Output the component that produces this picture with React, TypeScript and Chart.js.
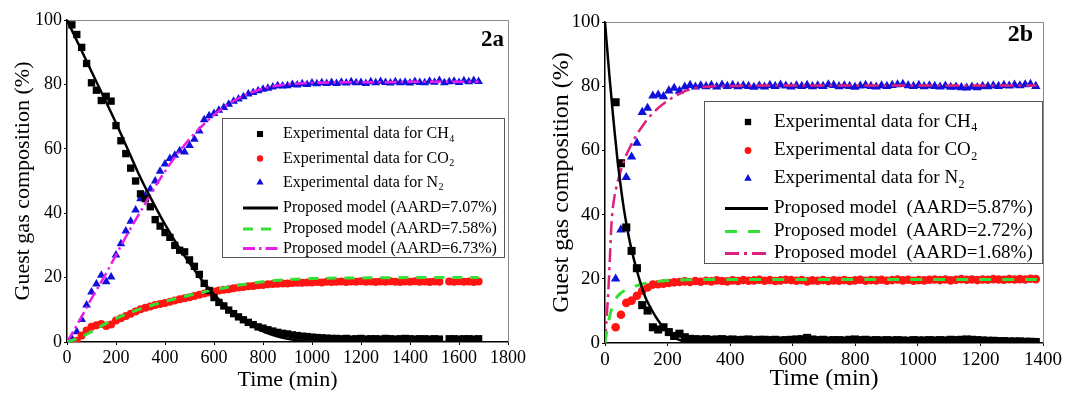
import React, { useEffect, useRef } from 'react';
import { Chart, registerables } from 'chart.js';

Chart.register(...registerables);

const FONT = '"Liberation Serif", "Times New Roman", serif';

// ---------- Panel 2a ----------
const TIME_A = [
  20, 40, 60, 80, 100, 120, 140, 160, 180, 200,
  220, 240, 260, 280, 300, 320, 340, 360, 380, 400,
  420, 440, 460, 480, 500, 520, 540, 560, 580, 600,
  620, 640, 660, 680, 700, 720, 740, 760, 780, 800,
  820, 840, 860, 880, 900, 920, 940, 960, 980, 1000,
  1020, 1040, 1060, 1080, 1100, 1120, 1140, 1160, 1180, 1200,
  1220, 1240, 1260, 1280, 1300, 1320, 1340, 1360, 1380, 1400,
  1420, 1440, 1460, 1480, 1500, 1520, 1540, 1560, 1580, 1600,
  1620, 1640, 1660, 1680,
];
const CH4_A = [
  98.5, 95.5, 91.5, 86.5, 80.5, 78.2, 75, 76.3, 74.8, 67.2,
  62.5, 58.5, 54, 50, 46, 44.5, 42, 38, 36, 34,
  32.5, 30, 28.5, 28, 25.5, 23.5, 21, 18.2, 16, 13.8,
  12.3, 11.2, 9.9, 8.8, 7.8, 6.9, 6.1, 5.4, 4.7, 4.3,
  3.8, 3.4, 3.0, 2.7, 2.5, 2.2, 2.0, 1.8, 1.7, 1.5,
  1.4, 1.3, 1.2, 1.1, 1.1, 1.0, 1.1, 0.9, 1.0, 1.1,
  0.9, 1.0, 1.0, 0.9, 1.1, 1.0, 0.9, 1.0, 1.1, 1.0,
  0.9, 1.0, 1.0, 0.9, 1.0, 0.9, null, 1.0, 1.0, 0.9,
  1.0, 1.0, 0.9, 1.0,
];
const CO2_A = [
  null, 0.4, 2.0, 3.6, 4.7, 5.2, 5.6, 5.0, 5.4, 6.7,
  7.4, 8.1, 8.8, 9.5, 10.2, 10.6, 11.0, 11.5, 11.8, 12.1,
  12.5, 12.9, 13.3, 13.6, 13.9, 14.3, 14.7, 15.1, 15.4, 15.7,
  16.0, 16.2, 16.4, 16.7, 16.9, 17.1, 17.3, 17.4, 17.6, 17.7,
  17.9, 18.0, 18.1, 18.2, 18.2, 18.3, 18.4, 18.4, 18.5, 18.5,
  18.6, 18.5, 18.7, 18.6, 18.7, 18.8, 18.6, 18.8, 18.7, 18.9,
  18.7, 18.8, 18.6, 18.8, 18.7, 18.9, 18.7, 18.6, 18.8, 18.7,
  18.9, 18.7, 18.8, 18.6, 18.8, 18.7, null, 18.8, 18.7, 18.9,
  18.7, 18.8, 18.6, 18.8,
];
const N2_A = [
  1.0, 3.2, 7.0, 11.5, 15.5, 18.0, 20.7, 18.7, 20.2, 27.0,
  30.5, 34.5, 37.5, 41.0, 44.5, 45.5, 47.5, 50.0, 53.0, 55.3,
  57.0, 58.0, 59.4, 59.0, 61.0, 63.0, 65.5, 69.0, 70.3, 71.0,
  72.0, 72.8, 73.8, 74.8, 75.5, 76.2, 77.0, 77.5, 78.0, 78.5,
  78.8, 79.2, 79.6, 79.5, 79.6, 80.0, 79.8, 80.2, 80.0, 80.4,
  80.2, 80.5, 80.3, 80.6, 80.3, 80.7, 80.4, 80.8, 80.5, 80.6,
  80.3, 80.8, 80.5, 80.9, 80.6, 80.4, 80.8, 80.5, 80.7, 80.4,
  80.9, 80.6, 80.5, 81.0, 80.7, 81.2, 80.5, 80.8, 81.0, 80.6,
  81.1, 80.8, 81.2, 80.9,
];
const MODEL_TIME_A = [0, 50, 100, 150, 200, 250, 300, 350, 400, 450, 500, 550, 600, 650, 700, 750, 800, 850, 900, 950, 1000, 1100, 1200, 1300, 1400, 1500, 1600, 1680];
const MODEL_CH4_A = [100, 92, 84, 76, 68, 59.5, 51, 43.5, 36.5, 30.2, 24.5, 19.3, 14.8, 11, 7.8, 5.2, 3.3, 1.9, 1.0, 0.4, 0.1, 0, 0, 0, 0, 0, 0, 0];
const MODEL_CO2_A = [0, 1.3, 3.2, 5.4, 7.3, 8.9, 10.3, 11.5, 12.6, 13.6, 14.5, 15.4, 16.2, 16.9, 17.6, 18.2, 18.7, 19.1, 19.4, 19.6, 19.7, 19.85, 19.9, 19.95, 20, 20, 20, 20];
const MODEL_N2_A = [0, 6.5, 13.5, 20, 27, 34, 40.5, 47, 53, 58.3, 63, 67, 70.5, 73.4, 75.7, 77.4, 78.7, 79.5, 80, 80.3, 80.5, 80.6, 80.7, 80.7, 80.8, 80.8, 80.8, 80.8];
const AARD_A = ['7.07%', '7.58%', '6.73%'];

// ---------- Panel 2b ----------
const TIME_B = [
  34, 51, 68, 85, 102, 119, 136, 153, 170, 187,
  204, 221, 238, 255, 272, 289, 306, 323, 340, 357,
  374, 391, 408, 425, 442, 459, 476, 493, 510, 527,
  544, 561, 578, 595, 612, 629, 646, 663, 680, 697,
  714, 731, 748, 765, 782, 799, 816, 833, 850, 867,
  884, 901, 918, 935, 952, 969, 986, 1003, 1020, 1037,
  1054, 1071, 1088, 1105, 1122, 1139, 1156, 1173, 1190, 1207,
  1224, 1241, 1258, 1275, 1292, 1309, 1326, 1343, 1360, 1377,
];
const CH4_B = [
  75, 56, 36, 28.7, 23.3, 11.8, 10.1, 4.9, 4.2, 4.9,
  3.4, 2.2, 2.9, 1.8, 1.3, 1.2, 1.1, 1.2, 1.0, 1.1,
  1.2, 1.0, 1.1, 0.9, 1.0, 1.1, 0.9, 1.0, 1.0, 0.9,
  1.0, 0.8, 0.9, 1.0, 1.1, 1.2, 1.6, 1.1, 0.9, 1.0,
  0.8, 0.9, 0.9, 0.8, 1.0, 1.1, 0.9, 1.0, 0.8, 0.9,
  0.8, 0.9, 0.8, 0.9, 0.8, 0.7, 0.9, 0.8, 0.8, 0.9,
  0.8, 0.9, 0.8, 1.0, 0.9, 1.0, 1.1, 1.0, 0.9, 0.8,
  0.7, 0.7, 0.6, 0.6, 0.5, 0.5, 0.5, 0.4, 0.4, 0.3,
];
const CO2_B = [
  4.9, 8.8, 12.5, 13.2, 14.7, 16.3, 17.3, 18.2, 18.3, 18.5,
  18.7, 18.9, 19.0, 19.2, 19.0, 19.3, 19.1, 19.4, 19.2, 19.5,
  19.3, 19.2, 19.5, 19.3, 19.6, 19.4, 19.5, 19.7, 19.4, 19.6,
  19.3, 19.5, 19.7, 19.6, 19.4, 19.6, 19.2, 19.5, 19.4, 19.6,
  19.3, 19.5, 19.4, 19.6, 19.3, 19.5, 19.7, 19.4, 19.6, 19.5,
  19.7, 19.4, 19.6, 19.8, 19.5, 19.7, 19.4, 19.6, 19.5, 19.7,
  19.8, 19.6, 19.8, 19.5, 19.7, 19.9, 19.7, 19.8, 19.6, 19.8,
  19.7, 19.9, 19.8, 19.7, 19.9, 19.8, 19.9, 19.8, 20.0, 19.9,
];
const N2_B = [
  20, 35.3, 51.6, 58, 62.3, 71.9, 73.2, 77, 77.3, 76.8,
  78.6, 79.4, 78.5, 79.8, 80.3, 79.8, 80.2, 79.9, 80.3, 79.8,
  80.4, 80.0, 80.3, 79.9, 80.2, 80.0, 79.7, 80.1, 79.8, 80.3,
  80.0, 80.4, 80.1, 79.8, 80.2, 80.0, 80.3, 79.9, 80.2, 80.0,
  80.5, 80.3, 79.9, 80.2, 80.0, 79.7, 80.1, 80.3, 80.0, 79.8,
  80.2, 80.0, 80.3, 80.5, 80.6, 80.2, 80.0, 80.3, 79.9, 80.2,
  80.0, 79.8, 80.1, 79.7, 79.8, 79.6, 79.5, 79.8, 79.6, 80.0,
  79.9, 80.2, 80.0, 80.3, 80.1, 80.4, 80.2, 80.5, 80.6, 80.0,
];
const MODEL_TIME_B = [0, 5, 10, 15, 20, 25, 30, 40, 50, 60, 70, 80, 90, 100, 110, 120, 130, 140, 150, 160, 170, 180, 190, 200, 210, 220, 230, 240, 250, 260, 280, 300, 350, 400, 500, 600, 800, 1000, 1200, 1380];
const MODEL_CH4_B = [100, 94, 88, 82.3, 77, 71.5, 66.5, 57, 49, 42, 36.2, 31.2, 27, 23.3, 19.8, 16.8, 14, 12, 10.2, 8.5, 7, 5.7, 4.5, 3.5, 2.6, 1.9, 1.3, 0.9, 0.5, 0.3, 0.05, 0, 0, 0, 0, 0, 0, 0, 0, 0];
const MODEL_CO2_B = [0, 3.3, 5.8, 8.3, 10.2, 11.7, 12.9, 14.5, 15.5, 16.2, 16.7, 17.1, 17.5, 17.8, 18.1, 18.4, 18.6, 18.8, 19, 19.1, 19.2, 19.3, 19.4, 19.45, 19.5, 19.55, 19.6, 19.6, 19.65, 19.7, 19.7, 19.75, 19.8, 19.8, 19.8, 19.8, 19.8, 19.8, 19.8, 19.8];
const MODEL_N2_B = [0, 7.5, 15, 25, 36, 42, 45.5, 50, 53.5, 56.5, 59, 61, 63, 64.7, 66.2, 67.6, 69, 70.2, 71.3, 72.3, 73.2, 74, 74.8, 75.5, 76.1, 76.7, 77.2, 77.7, 78.2, 78.6, 79.2, 79.6, 80, 80.1, 80.2, 80.2, 80.2, 80.2, 80.2, 80.2];
const AARD_B = ['5.87%', '2.72%', '1.68%'];

const Y_TICKS = [0, 20, 40, 60, 80, 100];

type Panel = {
  label: string;
  canvasLeft: number;
  width: number;
  xMax: number;
  plotLeft: number;
  plotRight: number;
  plotTop: number;
  plotBottom: number;
  tickSize: number;
  titleSize: number;
  yTitlePad: number;
  tickPad: number;
  time: number[];
  ch4: (number | null)[];
  co2: (number | null)[];
  n2: (number | null)[];
  mTime: number[];
  mCh4: number[];
  mCo2: number[];
  mN2: number[];
  aard: string[];
  modelSep: string;
  magenta: string;
  greenDash: number[];
  magDash: number[];
  mark: { rect: number; circle: number; tri: number };
  legend: {
    box: [number, number, number, number];
    rows: number[];
    markerX: number;
    textX: number;
    lineX: [number, number];
    size: number;
    lm: { rect: number; circle: number; tri: number };
  };
  tag: { x: number; y: number; size: number };
};

const PANELS: Panel[] = [
  {
    label: '2a', canvasLeft: 0, width: 540, xMax: 1800,
    plotLeft: 67, plotRight: 508, plotTop: 20, plotBottom: 342,
    tickSize: 18, titleSize: 22, yTitlePad: 11, tickPad: 2,
    time: TIME_A, ch4: CH4_A, co2: CO2_A, n2: N2_A,
    mTime: MODEL_TIME_A, mCh4: MODEL_CH4_A, mCo2: MODEL_CO2_A, mN2: MODEL_N2_A,
    aard: AARD_A, modelSep: ' ', magenta: '#e81ee8',
    greenDash: [10, 8], magDash: [12, 4, 2.5, 4],
    mark: { rect: 5.2, circle: 4, tri: 5 },
    legend: {
      box: [222, 118, 505, 258], rows: [134, 158.5, 182.5, 208, 229, 248.5],
      markerX: 260, textX: 283, lineX: [243, 278], size: 16,
      lm: { rect: 4.3, circle: 3.2, tri: 4.2 },
    },
    tag: { x: 504, y: 40, size: 23 },
  },
  {
    label: '2b', canvasLeft: 540, width: 527, xMax: 1400,
    plotLeft: 65, plotRight: 503, plotTop: 22, plotBottom: 343,
    tickSize: 19, titleSize: 24, yTitlePad: 8, tickPad: 3,
    time: TIME_B, ch4: CH4_B, co2: CO2_B, n2: N2_B,
    mTime: MODEL_TIME_B, mCh4: MODEL_CH4_B, mCo2: MODEL_CO2_B, mN2: MODEL_N2_B,
    aard: AARD_B, modelSep: '  ', magenta: '#e0207e',
    greenDash: [12, 11], magDash: [14, 5, 3, 5],
    mark: { rect: 5.7, circle: 4.3, tri: 5.4 },
    legend: {
      box: [164, 101, 503, 264], rows: [122, 150.5, 178.5, 208.5, 231.5, 253.5],
      markerX: 208, textX: 234, lineX: [185, 228], size: 19,
      lm: { rect: 4.5, circle: 3.4, tri: 4.4 },
    },
    tag: { x: 493, y: 35, size: 24 },
  },
];

const BLACK = '#000000';
const RED = '#ff1414';
const BLUE = '#1010dd';
const GREEN = '#35e035';

function pts(xs: number[], ys: (number | null)[]) {
  return xs.map((x, i) => ({ x, y: ys[i] })).filter((d) => d.y !== null && d.y !== undefined);
}

function drawMarker(ctx: CanvasRenderingContext2D, kind: string, x: number, y: number, r: number, color: string) {
  ctx.fillStyle = color;
  ctx.beginPath();
  if (kind === 'rect') {
    const s = r * Math.SQRT1_2;
    ctx.rect(x - s, y - s, 2 * s, 2 * s);
  } else if (kind === 'circle') {
    ctx.arc(x, y, r, 0, Math.PI * 2);
  } else {
    ctx.moveTo(x, y - r);
    ctx.lineTo(x + r * Math.sin((2 * Math.PI) / 3), y - r * Math.cos((2 * Math.PI) / 3));
    ctx.lineTo(x + r * Math.sin((4 * Math.PI) / 3), y - r * Math.cos((4 * Math.PI) / 3));
    ctx.closePath();
  }
  ctx.fill();
}

function makeConfig(p: Panel): any {
  const L = p.legend;
  const rows = [
    { kind: 'rect', color: BLACK, text: 'Experimental data for CH', sub: '4' },
    { kind: 'circle', color: RED, text: 'Experimental data for CO', sub: '2' },
    { kind: 'triangle', color: BLUE, text: 'Experimental data for N', sub: '2' },
    { kind: 'line', color: BLACK, dash: [] as number[], text: 'Proposed model' + p.modelSep + '(AARD=' + p.aard[0] + ')' },
    { kind: 'line', color: GREEN, dash: p.greenDash, text: 'Proposed model' + p.modelSep + '(AARD=' + p.aard[1] + ')' },
    { kind: 'line', color: p.magenta, dash: p.magDash, text: 'Proposed model' + p.modelSep + '(AARD=' + p.aard[2] + ')' },
  ];

  const decor = {
    id: 'decor' + p.label,
    beforeDatasetsDraw(chart: any) {
      const { ctx, chartArea: a } = chart;
      ctx.save();
      ctx.strokeStyle = '#8a8a8a';
      ctx.lineWidth = 1;
      ctx.beginPath();
      ctx.moveTo(a.left, a.top + 0.5);
      ctx.lineTo(a.right + 0.5, a.top + 0.5);
      ctx.lineTo(a.right + 0.5, a.bottom);
      ctx.stroke();
      ctx.restore();
    },
    afterDraw(chart: any) {
      const ctx: CanvasRenderingContext2D = chart.ctx;
      ctx.save();
      const [bx0, by0, bx1, by1] = L.box;
      ctx.fillStyle = '#ffffff';
      ctx.fillRect(bx0, by0, bx1 - bx0, by1 - by0);
      ctx.strokeStyle = '#555555';
      ctx.lineWidth = 1;
      ctx.strokeRect(bx0 + 0.5, by0 + 0.5, bx1 - bx0 - 1, by1 - by0 - 1);
      rows.forEach((r, i) => {
        const y = L.rows[i];
        if (r.kind === 'line') {
          ctx.strokeStyle = r.color;
          ctx.lineWidth = 3;
          ctx.setLineDash(r.dash || []);
          ctx.beginPath();
          ctx.moveTo(L.lineX[0], y);
          ctx.lineTo(L.lineX[1], y);
          ctx.stroke();
          ctx.setLineDash([]);
        } else {
          const rr = r.kind === 'rect' ? L.lm.rect : r.kind === 'circle' ? L.lm.circle : L.lm.tri;
          drawMarker(ctx, r.kind, L.markerX, y, rr, r.color);
        }
        ctx.fillStyle = '#000';
        ctx.textBaseline = 'middle';
        ctx.textAlign = 'left';
        ctx.font = `${L.size}px ${FONT}`;
        ctx.fillText(r.text, L.textX, y);
        if (r.sub) {
          const w = ctx.measureText(r.text).width;
          ctx.font = `${Math.round(L.size * 0.62)}px ${FONT}`;
          ctx.fillText(r.sub, L.textX + w + 0.5, y + L.size * 0.32);
        }
      });
      ctx.font = `bold ${p.tag.size}px ${FONT}`;
      ctx.textAlign = 'right';
      ctx.textBaseline = 'middle';
      ctx.fillStyle = '#000';
      ctx.fillText(p.label, p.tag.x, p.tag.y);
      ctx.restore();
    },
  };

  const tickFont = { family: FONT, size: p.tickSize };
  const titleFont = { family: FONT, size: p.titleSize, lineHeight: 1.15 };
  const grid = { display: true, drawOnChartArea: false, drawTicks: true, tickLength: 3, color: BLACK, lineWidth: 1 };
  const border = { display: true, color: BLACK, width: 1.5 };
  const plain = (v: any) => String(v);

  return {
    type: 'scatter',
    data: {
      datasets: [
        { label: 'model CH4', data: pts(p.mTime, p.mCh4), showLine: true, borderColor: BLACK, borderWidth: 2.5, pointRadius: 0, cubicInterpolationMode: 'monotone' },
        { label: 'model CO2', data: pts(p.mTime, p.mCo2), showLine: true, borderColor: GREEN, borderWidth: 3, borderDash: p.greenDash, pointRadius: 0, cubicInterpolationMode: 'monotone' },
        { label: 'model N2', data: pts(p.mTime, p.mN2), showLine: true, borderColor: p.magenta, borderWidth: 2.5, borderDash: p.magDash, pointRadius: 0, cubicInterpolationMode: 'monotone' },
        { label: 'CH4', data: pts(p.time, p.ch4), pointStyle: 'rect', pointRadius: p.mark.rect, backgroundColor: BLACK, borderWidth: 0 },
        { label: 'CO2', data: pts(p.time, p.co2), pointStyle: 'circle', pointRadius: p.mark.circle, backgroundColor: RED, borderWidth: 0 },
        { label: 'N2', data: pts(p.time, p.n2), pointStyle: 'triangle', pointRadius: p.mark.tri, backgroundColor: BLUE, borderWidth: 0 },
      ],
    },
    options: {
      animation: false,
      responsive: false,
      events: [],
      layout: { padding: { top: p.plotTop, right: p.width - p.plotRight, left: 0, bottom: 0 } },
      plugins: { legend: { display: false }, tooltip: { enabled: false } },
      scales: {
        x: {
          type: 'linear', min: 0, max: p.xMax,
          ticks: { stepSize: 200, color: BLACK, font: tickFont, padding: p.tickPad, maxRotation: 0, autoSkip: false, callback: plain },
          grid, border,
          title: { display: true, text: 'Time (min)', color: BLACK, font: titleFont, padding: { top: 0, bottom: 0 } },
          afterFit: (s: any) => { s.height = 393 - p.plotBottom; },
        },
        y: {
          type: 'linear', min: 0, max: 100,
          afterBuildTicks: (s: any) => { s.ticks = Y_TICKS.map((v) => ({ value: v })); },
          ticks: { color: BLACK, font: tickFont, padding: 2, callback: plain },
          grid, border,
          title: { display: true, text: 'Guest gas composition (%)', color: BLACK, font: titleFont, padding: { top: p.yTitlePad, bottom: 0 } },
          afterFit: (s: any) => { s.width = p.plotLeft; },
        },
      },
    },
    plugins: [decor],
  };
}

function PanelChart({ p }: { p: Panel }) {
  const ref = useRef<HTMLCanvasElement | null>(null);
  useEffect(() => {
    if (!ref.current) return;
    const chart = new Chart(ref.current, makeConfig(p));
    return () => chart.destroy();
  }, [p]);
  return (
    <canvas
      ref={ref}
      width={p.width}
      height={393}
      style={{ position: 'absolute', left: p.canvasLeft, top: 0, width: p.width, height: 393 }}
    />
  );
}

export default function App() {
  return (
    <div style={{ position: 'absolute', left: 0, top: 0, width: 1067, height: 393, background: '#ffffff', overflow: 'hidden' }}>
      {PANELS.map((p) => (
        <PanelChart key={p.label} p={p} />
      ))}
    </div>
  );
}
